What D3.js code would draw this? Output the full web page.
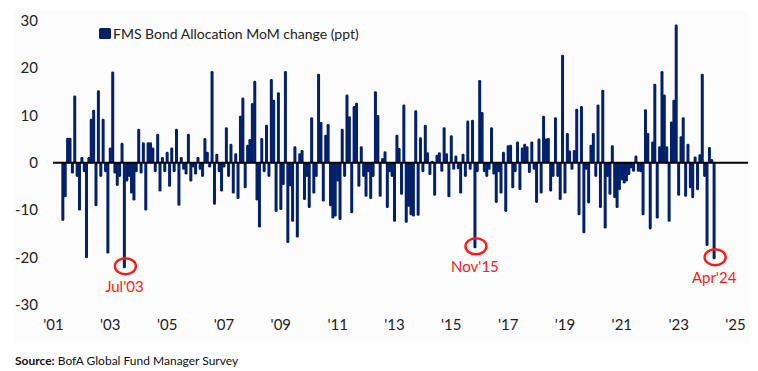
<!DOCTYPE html>
<html>
<head>
<meta charset="utf-8">
<script src="https://cdn.jsdelivr.net/npm/d3@7"></script>
<style>
  body { margin: 0; background: #fff; }
  text { font-family: Lato, "Open Sans", sans-serif; }
</style>
</head>
<body>
<div id="chart"></div>
<script>
// first bar is May 2001, one value per month through Apr 2024
var startYear = 2001, startMonth = 4;
var bondChange = [
  -12.3, -7.3, 5.3, 5.3, -2.3, 14.2, -3, -10.1,
  1.2, -2, -20.2, 1.2, 9.3, 11.2, -9.2, 15.3, -3, 9.3, -2, -19.2,
  3.2, 19.3, -2.3, -4.9, -3, 4.2, -22.3, -4, -3, -6.5, -8, -2,
  7.2, -2.3, 4.3, -10.1, 4.3, 4.3, 3.2, -2, 6.1, -6.1, 1.2, -2,
  2.3, -5.1, 3.2, -2, 7.2, -9.1, 1.2, -1.5, -2.5, 6.1, -4, -1,
  -2.5, 1.2, -1.5, -3, 5.2, 2.3, -1, 19.4, -8.9, 1.9, -2, -6.1,
  -1, 7.5, -3, 4, -6.5, 2, -7.7, 9.9, 13.8, -5.4, 3.8, 5,
  12.6, 17.3, -8, -13.7, 5.2, -2, 8, -3, 17.7, 13.3, -10.4, 14.9,
  -10, -4.7, 19.4, -17, -5, -12.5, 3.5, -15.8, 2, 2.7, -7.9, -3,
  -9.6, 9.6, -6.5, -3, 18.8, 8.6, -8.2, 5.9, 8.2, -9.2, -11.8, -11.4,
  -4, -12.1, 7.2, -3, 14.4, 9.8, -10.7, 12, 12.7, -5.1, 3.5, -3,
  -7.2, -2, -7.7, -3, 15.1, 10.1, -7.2, 1, 2.4, -9.6, -2, -3,
  -12.5, 5.9, 3.1, -6.8, 12.3, -12.7, -9.3, -11.1, -11.4, 11.1, -11.2, 5.4,
  -2, 8, 2.2, -2.6, 0.4, -7, 1.7, 2.2, -1.9, 7.5, 2, -7.3,
  5.8, -1.5, 1.5, -1.4, -6.5, 1.9, -3, 8.9, -1.5, 9.1, -18.1, -2,
  17.5, 10.7, -2, -3, -1.5, 7.5, -2.5, -8.5, -2, -6.5, 2.3, -10.4,
  3.7, 3.8, -5.4, -2, 4.5, -5.8, 3.2, 4, 3.5, -2.2, 4.5, -1.5,
  -8.5, 5.1, -6.5, 9.9, 5.1, 5.2, -6.1, -3, 9.6, -3, -7.9, 22.8,
  -6.5, 6.3, 2.6, -1.5, 2.7, 11.4, -11.1, 12, -14.9, -1.5, -8.6, 3.8,
  6.3, -3, 12.3, -9.6, 15.4, -13.9, -3, -6.8, 3.7, -7.5, -9.6, -5.8,
  -3.7, -4.4, -4, -2.6, -1.2, -1.9, 1.5, -1.9, -2, -11.1, 11.3, 6.3,
  -14.1, 4.5, 16.7, -11.8, 3.5, 19.4, 14.4, 3.5, -12.5, 8.7, 13.3, 29.2,
  -7, 5.6, 9.6, -7.2, 4, -5.4, -7.5, 1.3, -5.8, 1.8, 18.8, -3,
  -17.6, 3.3, 0.8, -20.4
];
var yTicks = [30, 20, 10, 0, -10, -20, -30];
var xTickYears = [2001, 2003, 2005, 2007, 2009, 2011, 2013, 2015, 2017, 2019, 2021, 2023, 2025];
var legendLabel = "FMS Bond Allocation MoM change (ppt)";
var callouts = [
  {label: "Jul'03", year: 2003, month: 6},
  {label: "Nov'15", year: 2015, month: 10},
  {label: "Apr'24", year: 2024, month: 3}
];

var width = 758, height = 371;
var navy = "#03206a", red = "#ff1a1a";

var data = bondChange.map(function (v, i) {
  return {date: new Date(startYear, startMonth + i, 1), value: v};
});

var x = d3.scaleTime()
  .domain([new Date(2001, 0, 1), new Date(2025, 0, 1)])
  .range([53.5, 735.5]);
var y = d3.scaleLinear().domain([-30, 30]).range([304.6, 20.8]);

var svg = d3.select("#chart").append("svg")
  .attr("width", width)
  .attr("height", height);

// faint panel behind the chart
svg.append("rect")
  .attr("x", 13).attr("y", 10)
  .attr("width", 736).attr("height", 333)
  .attr("fill", "#fcfcfc");

// y labels
svg.append("g")
  .selectAll("text")
  .data(yTicks).enter()
  .append("text")
  .attr("x", 38)
  .attr("y", function (d) { return y(d); })
  .attr("dy", "0.35em")
  .attr("text-anchor", "end")
  .attr("font-size", "15px")
  .attr("fill", "#222")
  .text(function (d) { return d; });

// x labels
svg.append("g")
  .selectAll("text")
  .data(xTickYears).enter()
  .append("text")
  .attr("x", function (d) { return x(new Date(d, 0, 1)); })
  .attr("y", 330)
  .attr("text-anchor", "middle")
  .attr("font-size", "15px")
  .attr("fill", "#222")
  .text(function (d) { return "'" + String(d).slice(2); });

// bars
var barW = 3;
svg.append("g")
  .selectAll("rect")
  .data(data).enter()
  .append("rect")
  .attr("x", function (d) { return x(d.date) - barW / 2; })
  .attr("y", function (d) { return y(Math.max(0, d.value)); })
  .attr("width", barW)
  .attr("height", function (d) { return Math.abs(y(d.value) - y(0)); })
  .attr("rx", 1.3)
  .attr("fill", navy);

// zero line
svg.append("line")
  .attr("x1", 53).attr("x2", 748)
  .attr("y1", y(0)).attr("y2", y(0))
  .attr("stroke", "#000")
  .attr("stroke-width", 2);

// legend
svg.append("rect")
  .attr("x", 99).attr("y", 28)
  .attr("width", 12).attr("height", 11)
  .attr("rx", 1.5)
  .attr("fill", navy);
svg.append("text")
  .attr("x", 113).attr("y", 38.5)
  .attr("font-size", "14px")
  .attr("fill", "#222")
  .text(legendLabel);

// callouts on the three big drops
var marks = svg.append("g")
  .selectAll("g")
  .data(callouts).enter()
  .append("g");

function calloutPoint(c) {
  var dt = new Date(c.year, c.month, 1);
  var row = data.find(function (d) { return d.date.getTime() === dt.getTime(); });
  return [x(dt), y(row.value)];
}

marks.append("ellipse")
  .attr("cx", function (c) { return calloutPoint(c)[0] + 1; })
  .attr("cy", function (c) { return calloutPoint(c)[1] - 2; })
  .attr("rx", 10.5)
  .attr("ry", 8)
  .attr("fill", "none")
  .attr("stroke", red)
  .attr("stroke-width", 2.4);

marks.append("text")
  .attr("x", function (c) { return calloutPoint(c)[0]; })
  .attr("y", function (c) { return calloutPoint(c)[1] + 24; })
  .attr("text-anchor", "middle")
  .attr("font-size", "15px")
  .attr("fill", red)
  .text(function (c) { return c.label; });

// source note
var note = svg.append("text")
  .attr("x", 15).attr("y", 365)
  .attr("font-size", "12px")
  .attr("fill", "#111");
note.append("tspan").attr("font-weight", "bold").text("Source:");
note.append("tspan").text(" BofA Global Fund Manager Survey");
</script>
</body>
</html>
